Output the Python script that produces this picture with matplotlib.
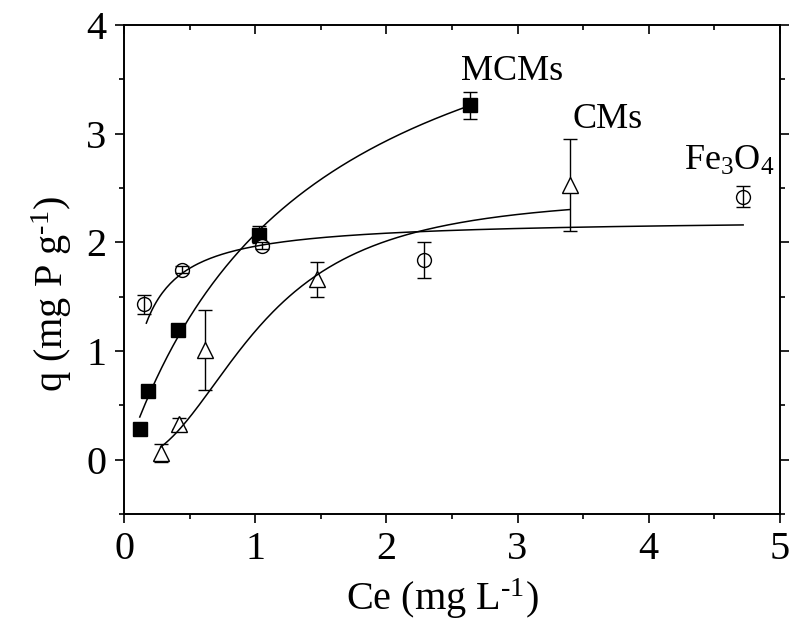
"""Phosphate adsorption isotherms: MCMs, CMs and Fe3O4 with fitted curves."""
import numpy as np
import matplotlib
matplotlib.use("Agg")
import matplotlib.pyplot as plt
from matplotlib.ticker import MultipleLocator

plt.rcParams["font.family"] = ["Liberation Serif", "DejaVu Serif"]
plt.rcParams["mathtext.fontset"] = "custom"
plt.rcParams["mathtext.rm"] = "Liberation Serif"
plt.rcParams["mathtext.it"] = "Liberation Serif:italic"

# measured points (Ce, q, error)
mcm_ce = [0.12, 0.18, 0.41, 1.03, 2.64]
mcm_q = [0.28, 0.63, 1.19, 2.07, 3.26]
mcm_err = [0.02, 0.03, 0.03, 0.08, 0.125]

cm_ce = [0.28, 0.42, 0.62, 1.47, 3.40]
cm_q = [0.06, 0.33, 1.01, 1.66, 2.53]
cm_err = [0.08, 0.05, 0.37, 0.16, 0.425]

fe_ce = [0.155, 0.44, 1.05, 2.29, 4.72]
fe_q = [1.43, 1.75, 1.97, 1.84, 2.42]
fe_err = [0.09, 0.03, 0.03, 0.165, 0.095]

# fitted isotherm parameters: (qm, K, n, Ce range)
mcm_fit = (5.0, 0.71, 1.0, 0.12, 2.64)
cm_fit = (2.45, 0.97, 2.3, 0.28, 3.40)
fe_fit = (2.22, 7.67, 1.0, 0.17, 4.72)


def sips(c, qm, k, n):
    kc = (k * c) ** n
    return qm * kc / (1 + kc)


fig = plt.figure(figsize=(7.94, 6.21), dpi=100)
ax = fig.add_axes([0.1562, 0.1723, 0.826, 0.7874])

for qm, k, n, c0, c1 in (mcm_fit, cm_fit, fe_fit):
    c = np.linspace(c0, c1, 300)
    ax.plot(c, sips(c, qm, k, n), color="black", lw=1.1, zorder=4)

ax.errorbar(mcm_ce, mcm_q, yerr=mcm_err, fmt="s", ms=9.5, mfc="black",
            mec="black", ecolor="black", elinewidth=1.0, capsize=5,
            capthick=1.0, zorder=3)
ax.errorbar(cm_ce, cm_q, yerr=cm_err, fmt="^", ms=12, mfc="white",
            mec="black", mew=1.0, ecolor="black", elinewidth=1.0, capsize=5,
            capthick=1.0, zorder=2)
eb = ax.errorbar(fe_ce, fe_q, yerr=fe_err, fmt="o", ms=10, mfc="white",
                 mec="black", mew=1.0, ecolor="black", elinewidth=1.0,
                 capsize=5, capthick=1.0, zorder=3)
for part in eb[1] + eb[2]:
    part.set_zorder(3.5)

ax.text(2.96, 3.49, "MCMs", fontsize=26, ha="center", va="baseline")
ax.text(3.69, 3.05, "CMs", fontsize=26, ha="center", va="baseline")
ax.text(4.27, 2.67, "Fe$_3$O$_4$", fontsize=26, ha="left", va="baseline")

ax.set_xlim(0, 5)
ax.set_ylim(-0.5, 4)
ax.xaxis.set_major_locator(MultipleLocator(1))
ax.xaxis.set_minor_locator(MultipleLocator(0.5))
ax.yaxis.set_major_locator(MultipleLocator(1))
ax.yaxis.set_minor_locator(MultipleLocator(0.5))

ax.tick_params(which="both", top=True, right=True, width=1.2,
               labelsize=29, pad=6)
ax.tick_params(which="major", length=6.5)
ax.tick_params(which="minor", length=3.5)
ax.tick_params(which="both", direction="out")
# top and right ticks point inward
for t in ax.xaxis.get_ticklines(minor=False)[1::2] + ax.xaxis.get_ticklines(minor=True)[1::2]:
    t.set_marker(3)
for t in ax.yaxis.get_ticklines(minor=False)[1::2] + ax.yaxis.get_ticklines(minor=True)[1::2]:
    t.set_marker(1)
for s in ax.spines.values():
    s.set_linewidth(1.4)

ax.set_xlabel(r"Ce (mg L$^{\text{-1}}$)", fontsize=29)
ax.set_ylabel(r"q (mg P g$^{\text{-1}}$)", fontsize=29)
ax.xaxis.set_label_coords(0.485, -0.128)
ax.yaxis.set_label_coords(-0.076, 0.45)

fig.savefig("out.png", dpi=100)
